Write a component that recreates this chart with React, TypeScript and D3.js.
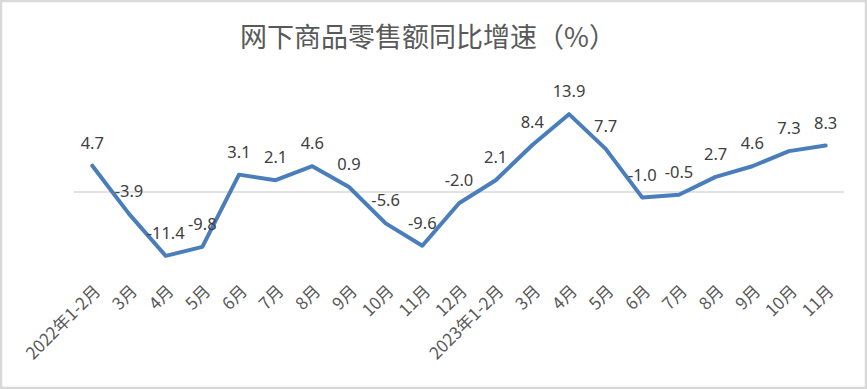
import React from "react";
import { scaleBand, scaleLinear, line } from "d3";

const categories = [
  "2022年1-2月", "3月", "4月", "5月", "6月", "7月", "8月", "9月", "10月", "11月", "12月",
  "2023年1-2月", "3月", "4月", "5月", "6月", "7月", "8月", "9月", "10月", "11月",
];
const values = [4.7, -3.9, -11.4, -9.8, 3.1, 2.1, 4.6, 0.9, -5.6, -9.6, -2.0, 2.1, 8.4, 13.9, 7.7, -1.0, -0.5, 2.7, 4.6, 7.3, 8.3];
const title = "网下商品零售额同比增速（%）";

const W = 867;
const H = 389;

export default function App() {
  // index keys so repeated month names stay distinct
  const keys = categories.map((_, i) => String(i));
  const x = scaleBand().domain(keys).range([74, 844]).padding(0);
  const y = scaleLinear().domain([-15, 20]).range([276, 80]);
  const cx = (i: number) => x(String(i))! + x.bandwidth() / 2;

  const path = line<number>()
    .x((_, i) => cx(i))
    .y((d) => y(d))(values);

  return (
    <div style={{ position: "fixed", left: 0, top: 0 }}>
      <svg width={W} height={H} style={{ display: "block" }}>
        <rect x={1} y={1} width={W - 2} height={H - 2} fill="#fff" stroke="#d9d9d9" strokeWidth={2.5} />
        <text
          x={428}
          y={47}
          textAnchor="middle"
          fontFamily="'Noto Sans CJK SC', sans-serif"
          fontSize={27}
          fill="#595959"
        >
          {title}
        </text>
        <line x1={74} x2={844} y1={y(0)} y2={y(0)} stroke="#d9d9d9" strokeWidth={1.5} />
        <path d={path ?? ""} fill="none" stroke="#4a7ebb" strokeWidth={4} strokeLinejoin="round" strokeLinecap="round" />
        {values.map((v, i) => (
          <text
            key={"v" + i}
            x={cx(i)}
            y={y(v) - 17}
            textAnchor="middle"
            fontFamily="'Noto Sans', sans-serif"
            fontSize={16.5}
            fill="#404040"
          >
            {v.toFixed(1)}
          </text>
        ))}
        {categories.map((c, i) => (
          <text
            key={"c" + i}
            transform={`translate(${cx(i) + 5},${288}) rotate(-45)`}
            textAnchor="end"
            dy="0.35em"
            fontFamily="'Noto Sans CJK SC', sans-serif"
            fontSize={17}
            fill="#595959"
          >
            {c}
          </text>
        ))}
      </svg>
    </div>
  );
}
